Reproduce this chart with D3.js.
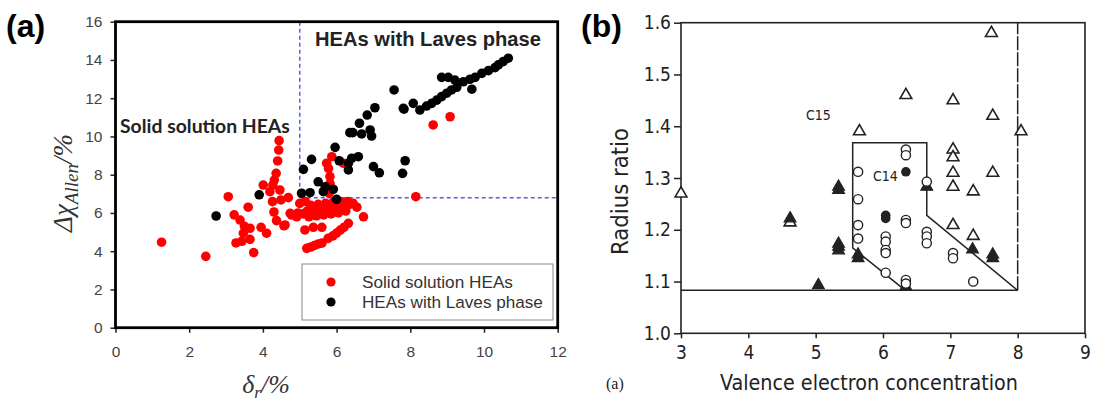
<!DOCTYPE html>
<html><head><meta charset="utf-8">
<script src="https://cdn.jsdelivr.net/npm/d3@7"></script>
<style>html,body{margin:0;padding:0;background:#fff;}svg{display:block;}</style>
</head><body>
<svg id="c" width="1093" height="401"></svg>
<script>
// ---------- Panel (a) data ----------
const aXTicks = [0, 2, 4, 6, 8, 10, 12];
const aYTicks = [0, 2, 4, 6, 8, 10, 12, 14, 16];
const solidPts = [
[1.25,4.47],[2.45,3.73],[3.06,6.85],[3.22,5.9],[3.38,5.63],[3.5,5.3],[3.6,6.3],[3.65,5.2],[3.47,4.94],[3.65,4.62],
[3.27,4.43],[3.43,4.52],[3.75,3.93],[3.95,5.25],[4.1,4.94],[4.01,7.46],[4.19,7.11],[4.27,7.46],[4.31,7.72],[4.36,8.07],
[4.4,8.72],[4.43,9.29],[4.44,9.78],[4.46,7.2],[4.26,6.59],[4.49,6.68],[4.69,6.8],[4.3,6.05],[4.37,5.6],[4.57,5.33],
[4.78,5.89],[4.92,5.8],[5.0,6.5],[5.14,5.11],[5.37,5.25],[5.6,5.25],
[4.74,5.98],[4.95,6.0],[5.1,5.95],[5.2,6.1],[5.35,6.05],[5.45,6.15],[5.55,6.1],[5.65,6.2],[5.75,6.2],[5.85,6.3],
[5.95,6.25],[6.05,6.35],[6.15,6.3],[6.25,6.4],[6.35,6.45],[6.45,6.5],[5.3,6.4],[5.5,6.45],[5.7,6.5],[5.9,6.55],
[6.1,6.6],[6.3,6.6],[5.25,5.8],[5.45,5.85],[5.65,5.9],[5.85,5.95],[6.05,6.0],[6.25,6.1],[6.55,6.3],[6.73,5.8],[5.15,6.6],
[5.19,4.15],[5.3,4.22],[5.4,4.3],[5.5,4.38],[5.6,4.42],[5.77,4.67],[5.9,4.8],[6.0,4.95],[6.1,5.1],[6.2,5.25],[6.32,5.46],[4.6,5.37],
[5.87,8.94],[5.73,8.6],[5.78,8.33],[5.82,7.9],[5.82,7.55],[5.73,7.2],[5.8,7.03],[6.18,8.6],
[8.15,6.85],[8.62,10.6],[9.08,11.03]
];
const lavesPts = [
[2.73,5.84],[3.9,6.95],[5.1,8.28],[5.32,8.8],[5.5,7.63],[5.69,7.37],[5.91,7.24],[5.05,7.03],[5.28,7.06],[5.64,7.11],
[6.0,6.71],[5.96,9.43],[6.07,8.73],[6.32,8.25],[6.41,8.86],[6.59,8.94],[6.32,8.6],[6.36,10.2],[6.44,10.2],[6.68,10.13],
[6.91,10.34],[6.95,10.02],[6.62,10.69],[6.83,11.12],[7.04,11.5],[7.0,8.42],[7.16,8.1],[7.56,12.43],[7.83,11.43],[8.08,11.73],
[7.86,8.73],[7.79,8.07],[7.81,11.47],[8.26,11.38],[8.44,11.59],[8.58,11.73],[8.72,11.9],[8.85,12.08],[8.99,12.26],[9.12,12.43],
[9.26,12.57],[9.67,12.47],[9.44,12.86],[8.85,13.09],[9.03,13.09],[9.21,12.95],[9.62,12.99],[9.76,13.09],[9.94,13.3],[10.12,13.44],
[10.3,13.6],[10.39,13.74],[10.52,13.91],[10.66,14.09]
];
const aDivX = 5, aDivY = 6.8;
const aLegend = ["Solid solution HEAs", "HEAs with Laves phase"];

// ---------- Panel (b) data ----------
const bXTicks = [3, 4, 5, 6, 7, 8, 9];
const bYTicks = [1.0, 1.1, 1.2, 1.3, 1.4, 1.5, 1.6];
const openTri = [[3.0,1.27],[4.62,1.214],[5.65,1.39],[6.34,1.46],[7.04,1.45],[7.61,1.58],[7.63,1.42],[8.05,1.39],
[7.04,1.355],[7.04,1.34],[7.04,1.31],[7.63,1.31],[7.04,1.283],[7.34,1.274],[7.04,1.209],[7.34,1.188]];
const filledTri = [[4.62,1.222],[5.04,1.093],[5.34,1.277],[5.34,1.283],[5.34,1.167],[5.34,1.16],[5.34,1.173],
[5.63,1.145],[5.63,1.152],[6.65,1.283],[7.33,1.162],[7.63,1.145],[7.63,1.152],[6.34,1.09]];
const openCirc = [[5.63,1.312],[5.63,1.259],[5.63,1.209],[5.63,1.183],[6.04,1.187],[6.04,1.177],[6.04,1.161],[6.04,1.155],
[6.04,1.117],[6.34,1.355],[6.34,1.344],[6.34,1.219],[6.34,1.213],[6.34,1.103],[6.34,1.096],[6.65,1.293],[6.65,1.196],
[6.65,1.187],[6.65,1.174],[7.04,1.155],[7.04,1.145],[7.34,1.10]];
const filledCirc = [[6.04,1.228],[6.04,1.222],[6.34,1.312]];
const bBaseLine = [[3,1.083],[8,1.083]];
const bVertLine = [[8,1.083],[8,1.6]];
const bC14Line = [[6.33,1.083],[5.55,1.165],[5.55,1.368],[6.65,1.368],[6.65,1.228],[8,1.083]];

// ---------- drawing ----------
const svg = d3.select("#c");
svg.append("rect").attr("width",1093).attr("height",401).attr("fill","#fff");

function fitWidth(t, w) {
  const cur = t.node().getComputedTextLength();
  const fs = parseFloat(t.attr("font-size"));
  t.attr("font-size", fs * w / cur);
}

// ===== Panel (a) =====
const ax = d3.scaleLinear().domain([0,12]).range([115.5,557.7]);
const ay = d3.scaleLinear().domain([0,16]).range([327.7,21.7]);
const ga = svg.append("g");
const AF = "Arial, 'Liberation Sans', sans-serif";

// dashed division lines
ga.append("line").attr("x1",ax(aDivX)).attr("x2",ax(aDivX)).attr("y1",ay(16)).attr("y2",ay(aDivY))
  .attr("stroke","#5a5aff").attr("stroke-width",1.5).attr("stroke-dasharray","4,3");
ga.append("line").attr("x1",ax(aDivX)).attr("x2",ax(12)).attr("y1",ay(aDivY)).attr("y2",ay(aDivY))
  .attr("stroke","#5a5aff").attr("stroke-width",1.5).attr("stroke-dasharray","4,3");

// points
ga.append("g").selectAll("circle").data(solidPts).join("circle")
  .attr("cx",d=>ax(d[0])).attr("cy",d=>ay(d[1])).attr("r",4.8).attr("fill","#f00");
ga.append("g").selectAll("circle").data(lavesPts).join("circle")
  .attr("cx",d=>ax(d[0])).attr("cy",d=>ay(d[1])).attr("r",4.8).attr("fill","#000");

// axes
const axL = ga.append("g").attr("transform",`translate(${ax(0)},0)`)
  .call(d3.axisLeft(ay).tickValues(aYTicks).tickSize(5).tickPadding(8));
const axB = ga.append("g").attr("transform",`translate(0,${ay(0)})`)
  .call(d3.axisBottom(ax).tickValues(aXTicks).tickSize(5).tickPadding(13));
[axL, axB].forEach(g => {
  g.select(".domain").remove();
  g.selectAll("line").attr("stroke","#222").attr("stroke-width",1.5);
  g.selectAll("text").attr("font-family",AF).attr("font-size",15.5).attr("fill","#444");
});
// frame
ga.append("rect").attr("x",ax(0)).attr("y",ay(16)).attr("width",ax(12)-ax(0)).attr("height",ay(0)-ay(16))
  .attr("fill","none").attr("stroke","#000").attr("stroke-width",2.8);

// legend
ga.append("rect").attr("x",302).attr("y",264).attr("width",251).attr("height",56)
  .attr("fill","#fff").attr("stroke","#888").attr("stroke-width",1);
const legC = ["#f00","#000"];
aLegend.forEach((s,i)=>{
  ga.append("circle").attr("cx",331).attr("cy",282+i*20).attr("r",4.6).attr("fill",legC[i]);
  const t = ga.append("text").attr("x",362).attr("y",288+i*20).attr("font-family",AF)
    .attr("font-size",15).attr("fill","#333").text(s);
  fitWidth(t, i===0?151:181);
});

// region labels
const t1 = ga.append("text").attr("x",120).attr("y",133).attr("font-family","Lato, 'Open Sans', sans-serif")
  .attr("font-weight","bold").attr("font-size",16).attr("fill","#222").text("Solid solution HEAs");
fitWidth(t1,170);
const t2 = ga.append("text").attr("x",315).attr("y",46).attr("font-family",AF)
  .attr("font-weight","bold").attr("font-size",19).attr("fill","#222").text("HEAs with Laves phase");
fitWidth(t2,226);

// axis titles
const yt = ga.append("text").attr("transform","translate(72,183) rotate(-90)").attr("text-anchor","middle")
  .attr("font-family","'Times New Roman', 'Liberation Serif', serif").attr("font-style","italic").attr("font-size",27).attr("fill","#333");
yt.append("tspan").text("Δχ");
yt.append("tspan").attr("font-size",19).attr("dy",6).text("Allen");
yt.append("tspan").attr("dy",-6).text("/%");
const xt = ga.append("text").attr("x",266).attr("y",393).attr("text-anchor","middle")
  .attr("font-family","'Times New Roman', 'Liberation Serif', serif").attr("font-style","italic").attr("font-size",26).attr("fill","#333");
xt.append("tspan").text("δ");
xt.append("tspan").attr("font-size",17).attr("dy",5).text("r");
xt.append("tspan").attr("dy",-5).text("/%");

// panel label
svg.append("text").attr("x",6).attr("y",37).attr("font-family",AF).attr("font-weight","bold")
  .attr("font-size",32).attr("fill","#000").text("(a)");

// ===== Panel (b) =====
const bx = d3.scaleLinear().domain([3,9]).range([681,1085]);
const by = d3.scaleLinear().domain([1.0,1.6]).range([333.3,22.7]);
const gb = svg.append("g");
const BF = "'Liberation Sans Narrow', 'DejaVu Sans Condensed', 'Roboto Condensed', Arial, sans-serif";
const ink = "#222";

gb.append("rect").attr("x",bx(3)).attr("y",by(1.6)).attr("width",bx(9)-bx(3)).attr("height",by(1.0)-by(1.6))
  .attr("fill","none").attr("stroke",ink).attr("stroke-width",1.6);
const lineGen = d3.line().x(d=>bx(d[0])).y(d=>by(d[1]));
gb.append("path").attr("d",lineGen(bBaseLine)).attr("fill","none").attr("stroke",ink).attr("stroke-width",1.5);
gb.append("path").attr("d",lineGen(bVertLine)).attr("fill","none").attr("stroke",ink).attr("stroke-width",1.5)
  .attr("stroke-dasharray","14,2");
gb.append("path").attr("d",lineGen(bC14Line)).attr("fill","none").attr("stroke",ink).attr("stroke-width",1.5);

const bL = gb.append("g").attr("transform",`translate(${bx(3)},0)`)
  .call(d3.axisLeft(by).tickValues(bYTicks).tickFormat(d3.format(".1f")).tickSize(7).tickPadding(3));
const bB = gb.append("g").attr("transform",`translate(0,${by(1.0)})`)
  .call(d3.axisBottom(bx).tickValues(bXTicks).tickFormat(d3.format("d")).tickSize(5).tickPadding(7));
[bL,bB].forEach(g=>{
  g.select(".domain").remove();
  g.selectAll("line").attr("stroke",ink).attr("stroke-width",1.5);
  g.selectAll("text").attr("font-family",BF).attr("font-size",19).attr("fill",ink);
});

const tri = d3.symbol().type(d3.symbolTriangle).size(60);
gb.append("g").selectAll("path").data(openTri).join("path")
  .attr("transform",d=>`translate(${bx(d[0])},${by(d[1])})`).attr("d",tri)
  .attr("fill","#fff").attr("stroke",ink).attr("stroke-width",1.6);
gb.append("g").selectAll("path").data(filledTri).join("path")
  .attr("transform",d=>`translate(${bx(d[0])},${by(d[1])})`).attr("d",tri)
  .attr("fill",ink).attr("stroke",ink).attr("stroke-width",1.2);
gb.append("g").selectAll("circle").data(openCirc).join("circle")
  .attr("cx",d=>bx(d[0])).attr("cy",d=>by(d[1])).attr("r",4.6)
  .attr("fill","#fff").attr("stroke",ink).attr("stroke-width",1.4);
gb.append("g").selectAll("circle").data(filledCirc).join("circle")
  .attr("cx",d=>bx(d[0])).attr("cy",d=>by(d[1])).attr("r",4.8).attr("fill",ink);

gb.append("text").attr("x",806).attr("y",120).attr("font-family",BF).attr("font-size",14).attr("fill",ink).text("C15");
gb.append("text").attr("x",873).attr("y",181).attr("font-family",BF).attr("font-size",14).attr("fill",ink).text("C14");

const vx = gb.append("text").attr("x",720).attr("y",390).attr("font-family",BF).attr("font-size",19)
  .attr("fill",ink).text("Valence electron concentration");
fitWidth(vx,298);
const ry = gb.append("text").attr("transform","translate(628,255) rotate(-90)").attr("font-family",BF)
  .attr("font-size",19).attr("fill",ink).text("Radius ratio");
fitWidth(ry,127);
gb.append("text").attr("x",606).attr("y",389).attr("font-family","'Times New Roman','Liberation Serif',serif")
  .attr("font-size",16).attr("fill","#222").text("(a)");

svg.append("text").attr("x",581).attr("y",37).attr("font-family",AF).attr("font-weight","bold")
  .attr("font-size",32).attr("fill","#000").text("(b)");
</script>
</body></html>
